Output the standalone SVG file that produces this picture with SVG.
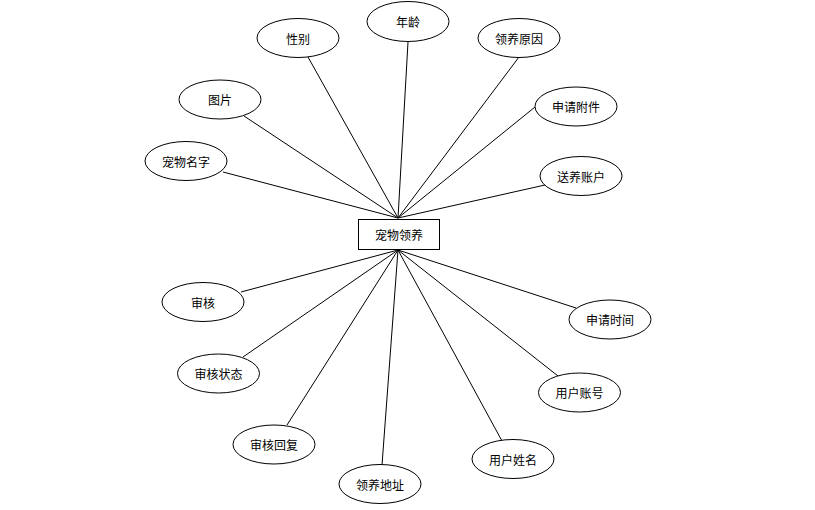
<svg xmlns="http://www.w3.org/2000/svg" width="815" height="510" viewBox="0 0 815 510">
<style>
.n ellipse,.n rect{fill:#fff;stroke:#000;stroke-width:1}
.n text{font-family:"Noto Sans CJK SC","Liberation Sans",sans-serif;font-size:12px;fill:#000;text-anchor:middle;dominant-baseline:central}
#edges line{stroke:#000;stroke-width:1}
</style>
<rect width="815" height="510" fill="#fff"/>
<g id="edges">
<line x1="308" y1="57" x2="398" y2="218"/>
<line x1="408" y1="42" x2="398" y2="218"/>
<line x1="244" y1="116" x2="398" y2="218"/>
<line x1="223" y1="172" x2="398" y2="218"/>
<line x1="519" y1="57" x2="398" y2="218"/>
<line x1="535" y1="107" x2="398" y2="218"/>
<line x1="545" y1="185" x2="398" y2="218"/>
<line x1="241" y1="292" x2="398" y2="250"/>
<line x1="243" y1="357" x2="398" y2="250"/>
<line x1="287" y1="425" x2="398" y2="250"/>
<line x1="382" y1="465" x2="398" y2="250"/>
<line x1="576" y1="308" x2="398" y2="250"/>
<line x1="558" y1="376" x2="398" y2="250"/>
<line x1="502" y1="441" x2="398" y2="250"/>
</g>
<g id="center" class="n"><rect x="358.5" y="219.5" width="81" height="30"/><text x="399" y="234.5">宠物领养</text></g>
<g id="xingbie" class="n"><ellipse cx="298" cy="38" rx="41" ry="19.5"/><text x="298" y="38">性别</text></g>
<g id="nianling" class="n"><ellipse cx="408" cy="21.5" rx="41" ry="20"/><text x="408" y="21.5">年龄</text></g>
<g id="tupian" class="n"><ellipse cx="220" cy="99.5" rx="41" ry="19.5"/><text x="220" y="99.5">图片</text></g>
<g id="chongwumingzi" class="n"><ellipse cx="186" cy="161" rx="41" ry="19.5"/><text x="186" y="161">宠物名字</text></g>
<g id="lingyangyuanyin" class="n"><ellipse cx="519" cy="38" rx="41" ry="19.5"/><text x="519" y="38">领养原因</text></g>
<g id="shenqingfujian" class="n"><ellipse cx="576" cy="106.5" rx="41" ry="19.5"/><text x="576" y="106.5">申请附件</text></g>
<g id="songyangzhanghu" class="n"><ellipse cx="581" cy="176" rx="41" ry="19.5"/><text x="581" y="176">送养账户</text></g>
<g id="shenhe" class="n"><ellipse cx="203" cy="302" rx="41" ry="19.5"/><text x="203" y="302">审核</text></g>
<g id="shenhezhuangtai" class="n"><ellipse cx="218.5" cy="373.5" rx="41" ry="19.5"/><text x="218.5" y="373.5">审核状态</text></g>
<g id="shenhehuifu" class="n"><ellipse cx="274" cy="444.5" rx="41" ry="19.5"/><text x="274" y="444.5">审核回复</text></g>
<g id="lingyangdizhi" class="n"><ellipse cx="380" cy="484" rx="41" ry="19.5"/><text x="380" y="484">领养地址</text></g>
<g id="shenqingshijian" class="n"><ellipse cx="610" cy="319.5" rx="41" ry="19.5"/><text x="610" y="319.5">申请时间</text></g>
<g id="yonghuzhanghao" class="n"><ellipse cx="579.5" cy="392.5" rx="41" ry="19.5"/><text x="579.5" y="392.5">用户账号</text></g>
<g id="yonghuxingming" class="n"><ellipse cx="513" cy="459" rx="41" ry="19.5"/><text x="513" y="459">用户姓名</text></g>
</svg>
